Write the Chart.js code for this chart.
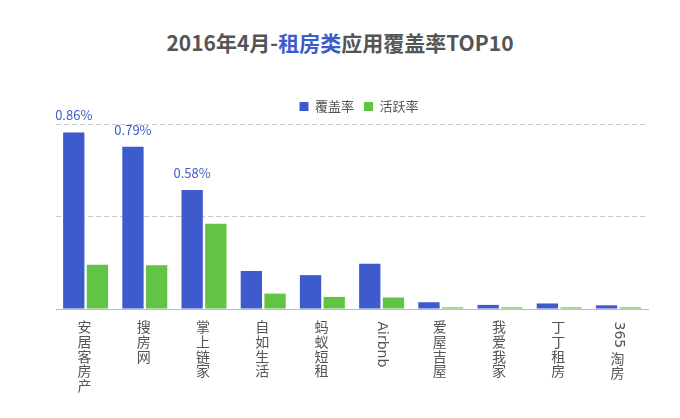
<!DOCTYPE html>
<html>
<head>
<meta charset="utf-8">
<script src="https://cdn.jsdelivr.net/npm/chart.js@4.4.1/dist/chart.umd.min.js"></script>
<style>
    body { margin: 0; background: #fff; }
    #wrap { position: relative; width: 680px; height: 418px; }
    #title {
        position: absolute; left: 0; top: 27px; width: 680px;
        text-align: center; line-height: 30px;
        font-family: "Noto Sans CJK SC", sans-serif; font-weight: bold; font-size: 21px;
        color: #555;
    }
    #title .hl { color: #3d5bcd; }
    #chart { position: absolute; left: 0; top: 0; }
</style>
</head>
<body>
<div id="wrap">
    <div id="title">2016年4月-<span class="hl">租房类</span>应用覆盖率TOP10</div>
    <canvas id="chart" width="680" height="418"></canvas>
</div>
<script>
// Data (values in %)
const categories = ['安居客房产', '搜房网', '掌上链家', '自如生活', '蚂蚁短租', 'Airbnb', '爱屋吉屋', '我爱我家', '丁丁租房', '365 淘房'];
const coverage = [0.86, 0.79, 0.58, 0.185, 0.165, 0.22, 0.033, 0.02, 0.027, 0.018];
const activity = [0.215, 0.213, 0.415, 0.075, 0.059, 0.056, 0.008, 0.008, 0.008, 0.008];
const yTicks = [0, 0.45, 0.9];
const labelledBars = 3;   // only the top three get a value label

const BLUE = '#3d5bcd';
const GREEN = '#62c444';
const TEXT = '#555';
const CJK_FONT = '"Noto Sans CJK SC", sans-serif';

// value labels above the first coverage bars
const valueLabels = {
    id: 'valueLabels',
    afterDatasetsDraw(chart) {
        const ctx = chart.ctx;
        const meta = chart.getDatasetMeta(0);
        ctx.save();
        ctx.font = '13px ' + CJK_FONT;
        ctx.fillStyle = BLUE;
        ctx.textAlign = 'center';
        ctx.textBaseline = 'middle';
        for (let i = 0; i < labelledBars; i++) {
            const bar = meta.data[i];
            ctx.fillText(coverage[i].toFixed(2) + '%', bar.x, bar.y - 17);
        }
        ctx.restore();
    }
};

// vertical category labels: CJK upright, latin runs turned 90deg
const verticalTicks = {
    id: 'verticalTicks',
    afterDraw(chart) {
        const ctx = chart.ctx;
        const xScale = chart.scales.x;
        const step = 14.6;
        ctx.save();
        ctx.font = '14px "DejaVu Sans", ' + CJK_FONT;
        ctx.fillStyle = TEXT;
        categories.forEach((label, i) => {
            const x = xScale.getPixelForTick(i);
            let y = chart.chartArea.bottom + 12.5;
            const runs = label.match(/[\x00-\x7f]+|[^\x00-\x7f]/g);
            runs.forEach(run => {
                if (/^[\x00-\x7f]+$/.test(run)) {
                    ctx.save();
                    ctx.translate(x, y);
                    ctx.rotate(Math.PI / 2);
                    ctx.textAlign = 'left';
                    ctx.textBaseline = 'middle';
                    ctx.fillText(run, 0, 0);
                    ctx.restore();
                    y += ctx.measureText(run).width;
                } else {
                    ctx.textAlign = 'center';
                    ctx.textBaseline = 'middle';
                    ctx.fillText(run, x - 1, y + step / 2);
                    y += step;
                }
            });
        });
        ctx.restore();
    }
};

// nudge legend to the right like the original
const legendShift = {
    id: 'legendShift',
    afterLayout(chart) {
        chart.legend.left += 7;
        chart.legend.right += 7;
    }
};

new Chart(document.getElementById('chart'), {
    type: 'bar',
    data: {
        labels: categories,
        datasets: [
            { label: '覆盖率', data: coverage, backgroundColor: BLUE },
            { label: '活跃率', data: activity, backgroundColor: GREEN }
        ]
    },
    options: {
        responsive: false,
        animation: false,
        layout: { padding: { top: 90, left: 56, right: 32, bottom: 101 } },
        plugins: {
            legend: {
                position: 'top',
                labels: {
                    boxWidth: 9,
                    boxHeight: 9,
                    padding: 10,
                    color: TEXT,
                    font: { size: 13, family: CJK_FONT }
                }
            },
            tooltip: { enabled: false }
        },
        scales: {
            x: {
                grid: { display: false },
                border: { display: true, color: '#bcbcbc', width: 1 },
                ticks: { display: false }
            },
            y: {
                min: 0,
                max: 0.906,
                afterBuildTicks(scale) {
                    scale.ticks = yTicks.map(v => ({ value: v }));
                },
                grid: { color: '#c8c8c8', drawTicks: false },
                border: { display: false, dash: [5, 3] },
                ticks: { display: false }
            }
        }
    },
    plugins: [valueLabels, verticalTicks, legendShift]
});
</script>
</body>
</html>
